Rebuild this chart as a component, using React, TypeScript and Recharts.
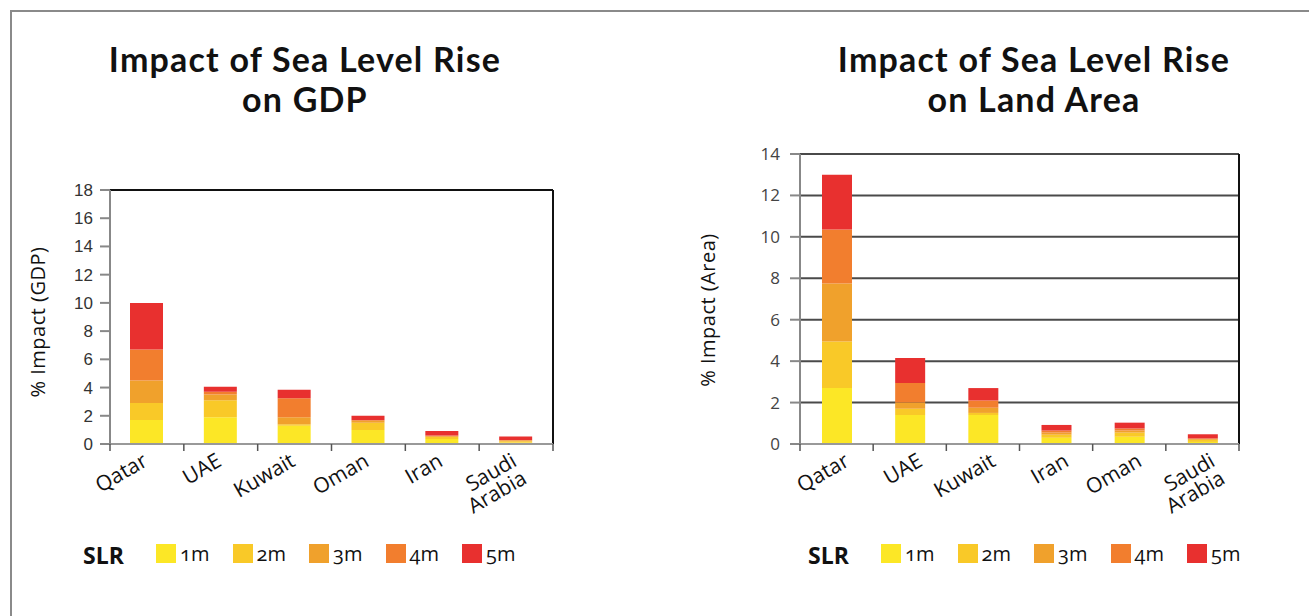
import React from 'react';
import { BarChart, Bar, XAxis, YAxis, CartesianGrid } from 'recharts';

// series (sea level rise scenarios) and colours
const SLR_LEVELS = ['1m', '2m', '3m', '4m', '5m'];
const SLR_COLORS = ['#FCE726', '#F9C928', '#F0A12C', '#F27E2E', '#E8302F'];

// GDP chart
const GDP_COUNTRIES = ['Qatar', 'UAE', 'Kuwait', 'Oman', 'Iran', 'Saudi Arabia'];
const GDP_1M = [1.7, 1.9, 1.3, 1.0, 0.35, 0.1];
const GDP_2M = [1.2, 1.2, 0.1, 0.5, 0.15, 0.1];
const GDP_3M = [1.6, 0.4, 0.5, 0.15, 0.05, 0.05];
const GDP_4M = [2.2, 0.2, 1.35, 0.05, 0.05, 0.03];
const GDP_5M = [3.3, 0.35, 0.6, 0.3, 0.32, 0.25];
const GDP_TICKS = [0, 2, 4, 6, 8, 10, 12, 14, 16, 18];

// land area chart
const AREA_COUNTRIES = ['Qatar', 'UAE', 'Kuwait', 'Iran', 'Oman', 'Saudi Arabia'];
const AREA_1M = [2.7, 1.4, 1.4, 0.3, 0.35, 0.1];
const AREA_2M = [2.25, 0.3, 0.1, 0.15, 0.2, 0.1];
const AREA_3M = [2.8, 0.3, 0.25, 0.1, 0.1, 0.04];
const AREA_4M = [2.6, 0.95, 0.35, 0.1, 0.1, 0.03];
const AREA_5M = [2.65, 1.2, 0.6, 0.27, 0.28, 0.2];
const AREA_TICKS = [0, 2, 4, 6, 8, 10, 12, 14];

const buildRows = (names: string[], series: number[][]) =>
  names.map((name, i) => {
    const row: Record<string, any> = { name };
    series.forEach((s, k) => {
      row['s' + (k + 1)] = s[i];
    });
    return row;
  });

const gdpData = buildRows(GDP_COUNTRIES, [GDP_1M, GDP_2M, GDP_3M, GDP_4M, GDP_5M]);
const areaData = buildRows(AREA_COUNTRIES, [AREA_1M, AREA_2M, AREA_3M, AREA_4M, AREA_5M]);

const LABEL_FONT = '"Open Sans", sans-serif';
const TITLE_FONT = 'Lato, "Open Sans", sans-serif';

// plot frame lines (top / right edge of the plotting area)
const topEdge = ({ offset }: any) => [offset.top];
const rightEdge = ({ offset }: any) => [offset.left + offset.width];

const CountryTick = (props: any) => {
  const { x, y, payload, index, visibleTicksCount, band, dx } = props;
  const lines = String(payload.value).split(' ');
  return (
    <g>
      <line x1={x - band / 2} x2={x - band / 2} y1={y} y2={y + 7} stroke="#555" strokeWidth={1.5} />
      {index === visibleTicksCount - 1 && (
        <line x1={x + band / 2} x2={x + band / 2} y1={y} y2={y + 7} stroke="#555" strokeWidth={1.5} />
      )}
      <text
        transform={`translate(${x + dx},${y + 21}) rotate(-30)`}
        textAnchor="end"
        fontFamily={LABEL_FONT}
        fontSize={21}
        fill="#111"
      >
        {lines.map((l, i) => (
          <tspan key={i} x={0} dy={i === 0 ? 0 : 20}>
            {l}
          </tspan>
        ))}
      </text>
    </g>
  );
};

const Legend = ({ left, top }: { left: number; top: number }) => (
  <div style={{ position: 'absolute', left, top, height: 24, fontFamily: LABEL_FONT }}>
    <span
      style={{
        position: 'absolute',
        left: 0,
        top: -4,
        fontWeight: 700,
        fontSize: 23,
        color: '#111',
      }}
    >
      SLR
    </span>
    {SLR_LEVELS.map((lvl, i) => (
      <div key={lvl} style={{ position: 'absolute', left: 73 + i * 76.5, top: 0, whiteSpace: 'nowrap' }}>
        <span
          style={{
            position: 'absolute',
            left: 0,
            top: 1,
            width: 20,
            height: 19,
            background: SLR_COLORS[i],
          }}
        />
        <span
          style={{
            position: 'absolute',
            left: 24,
            top: -3,
            fontSize: 20,
            color: '#111',
            fontVariantNumeric: 'oldstyle-nums',
          }}
        >
          {lvl}
        </span>
      </div>
    ))}
  </div>
);

const Title = ({ cx, lines }: { cx: number; lines: string[] }) => (
  <div
    style={{
      position: 'absolute',
      left: cx - 250,
      width: 500,
      top: 39,
      textAlign: 'center',
      fontFamily: TITLE_FONT,
      fontWeight: 700,
      fontSize: 34,
      lineHeight: '40px',
      letterSpacing: 1.2,
      color: '#111',
    }}
  >
    {lines[0]}
    <br />
    {lines[1]}
  </div>
);

const AxisTitle = ({ cx, cy, text }: { cx: number; cy: number; text: string }) => (
  <div
    style={{
      position: 'absolute',
      left: cx - 100,
      top: cy - 12,
      width: 200,
      height: 24,
      lineHeight: '24px',
      textAlign: 'center',
      transform: 'rotate(-90deg)',
      fontFamily: LABEL_FONT,
      fontSize: 20,
      letterSpacing: 0.5,
      color: '#111',
      whiteSpace: 'nowrap',
    }}
  >
    {text}
  </div>
);

const GDP_BAND = (553 - 110) / 6;
const AREA_BAND = (1239 - 800) / 6;

export default function App() {
  return (
    <div
      style={{
        position: 'absolute',
        left: 0,
        top: 0,
        width: 1309,
        height: 616,
        background: '#fff',
        overflow: 'hidden',
      }}
    >
      <div
        style={{
          position: 'absolute',
          left: 10,
          top: 10,
          width: 1320,
          height: 640,
          borderTop: '2px solid #8a8a8a',
          borderLeft: '2px solid #8a8a8a',
        }}
      />

      <Title cx={305} lines={['Impact of Sea Level Rise', 'on GDP']} />
      <Title cx={1034} lines={['Impact of Sea Level Rise', 'on Land Area']} />
      <AxisTitle cx={38} cy={322} text="% Impact (GDP)" />
      <AxisTitle cx={708} cy={310} text="% Impact (Area)" />

      {/* GDP chart */}
      <div style={{ position: 'absolute', left: 0, top: 0 }}>
        <BarChart
          width={660}
          height={616}
          data={gdpData}
          margin={{ top: 190, right: 107, left: 50, bottom: 112 }}
          style={{ overflow: 'visible' }}
        >
          <CartesianGrid
            stroke="#111"
            strokeWidth={2}
            horizontalCoordinatesGenerator={topEdge}
            verticalCoordinatesGenerator={rightEdge}
          />
          <XAxis
            dataKey="name"
            height={60}
            interval={0}
            tickSize={0}
            tickMargin={0}
            tickLine={false}
            axisLine={{ stroke: '#999', strokeWidth: 2 }}
            tick={<CountryTick band={GDP_BAND} dx={2} />}
          />
          <YAxis
            width={60}
            domain={[0, 18]}
            ticks={GDP_TICKS}
            interval={0}
            tickSize={10}
            tickMargin={7}
            axisLine={{ stroke: '#888', strokeWidth: 2 }}
            tickLine={{ stroke: '#888', strokeWidth: 2 }}
            tick={{ fill: '#333', fontSize: 17, fontFamily: '"Liberation Sans", Arial, sans-serif' }}
          />
          {SLR_LEVELS.map((lvl, i) => (
            <Bar
              key={lvl}
              dataKey={'s' + (i + 1)}
              name={lvl}
              stackId="gdp"
              fill={SLR_COLORS[i]}
              barSize={33}
              isAnimationActive={false}
            />
          ))}
        </BarChart>
      </div>

      {/* Land area chart */}
      <div style={{ position: 'absolute', left: 660, top: 0 }}>
        <BarChart
          width={649}
          height={616}
          data={areaData}
          margin={{ top: 154, right: 70, left: 80, bottom: 112 }}
          style={{ overflow: 'visible' }}
        >
          <CartesianGrid vertical={false} stroke="#4a4a4a" strokeWidth={2} />
          <CartesianGrid horizontal={false} stroke="#111" strokeWidth={2} verticalCoordinatesGenerator={rightEdge} />
          <XAxis
            dataKey="name"
            height={60}
            interval={0}
            tickSize={0}
            tickMargin={0}
            tickLine={false}
            axisLine={{ stroke: '#999', strokeWidth: 2 }}
            tick={<CountryTick band={AREA_BAND} dx={14} />}
          />
          <YAxis
            width={60}
            domain={[0, 14]}
            ticks={AREA_TICKS}
            interval={0}
            tickSize={10}
            tickMargin={10}
            axisLine={{ stroke: '#888', strokeWidth: 2 }}
            tickLine={{ stroke: '#888', strokeWidth: 2 }}
            tick={{ fill: '#444', fontSize: 17, fontFamily: LABEL_FONT }}
          />
          {SLR_LEVELS.map((lvl, i) => (
            <Bar
              key={lvl}
              dataKey={'s' + (i + 1)}
              name={lvl}
              stackId="area"
              fill={SLR_COLORS[i]}
              barSize={30}
              isAnimationActive={false}
            />
          ))}
        </BarChart>
      </div>

      <Legend left={83} top={543} />
      <Legend left={808} top={543} />
    </div>
  );
}
